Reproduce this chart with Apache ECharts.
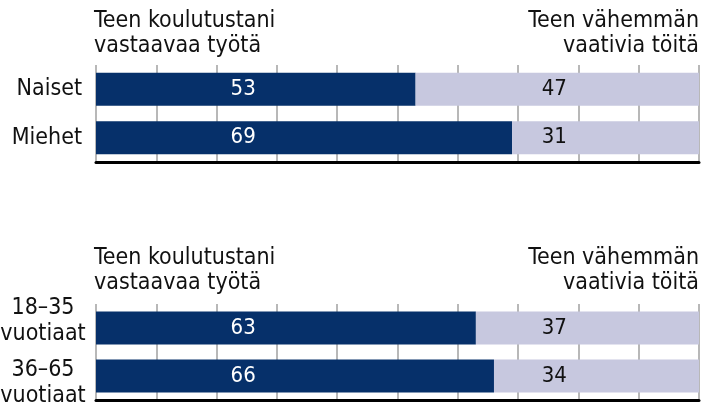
<!DOCTYPE html>
<html>
<head>
<meta charset="utf-8">
<script src="https://cdn.jsdelivr.net/npm/echarts@6/dist/echarts.min.js"></script>
<style>
html, body { margin: 0; padding: 0; background: #fff; }
#chart { width: 713px; height: 406px; }
</style>
</head>
<body>
<div id="chart"></div>
<script>
// aineisto
var sukupuoli = ['Naiset', 'Miehet'];
var sukupuoliVastaava = [53, 69];
var sukupuoliVahemman = [47, 31];

var ika = ['18–35\nvuotiaat', '36–65\nvuotiaat'];
var ikaVastaava = [63, 66];
var ikaVahemman = [37, 34];

var otsikkoVasen = 'Teen koulutustani\nvastaavaa työtä';
var otsikkoOikea = 'Teen vähemmän\nvaativia töitä';

var FONT = '"Liberation Sans Narrow", "DejaVu Sans Condensed", sans-serif';
var DARK = '#06306a';
var LIGHT = '#c7c8df';
var GRID_W = 603;
var PX = GRID_W / 100;
var darkLabelAt = 24.4, lightLabelAt = 76;

var chart = echarts.init(document.getElementById('chart'));

function xAxis(i) {
	return {
		gridIndex: i, type: 'value', min: 0, max: 100, interval: 10,
		axisLabel: {show: false}, axisTick: {show: false},
		axisLine: {show: true, onZero: false, lineStyle: {color: '#000', width: 3}},
		splitLine: {show: true, lineStyle: {color: '#a0a0a0', width: 1.5}}
	};
}

function darkData(vals) {
	return vals.map(function (v) {
		return {value: v, label: {position: [darkLabelAt * PX, '50%']}};
	});
}
function lightData(first, vals) {
	return vals.map(function (v, i) {
		return {value: v, label: {position: [(lightLabelAt - first[i]) * PX, '50%']}};
	});
}

function bars(i, first, second) {
	var lab = {show: true, align: 'center', verticalAlign: 'middle', fontFamily: FONT, fontSize: 22};
	return [
		{type: 'bar', xAxisIndex: i, yAxisIndex: i, stack: 's' + i, barWidth: 33,
		 itemStyle: {color: DARK}, data: darkData(first),
		 label: Object.assign({color: '#fff'}, lab)},
		{type: 'bar', xAxisIndex: i, yAxisIndex: i, stack: 's' + i, barWidth: 33,
		 itemStyle: {color: LIGHT}, data: lightData(first, second),
		 label: Object.assign({color: '#111'}, lab)}
	];
}

function otsikko(text, x, y, align) {
	return {type: 'text', x: x, y: y, silent: true,
		style: {text: text, align: align, verticalAlign: 'top', fill: '#111',
		        fontFamily: FONT, fontSize: 23, lineHeight: 25}};
}

option = {
	animation: false,
	graphic: [
		otsikko(otsikkoVasen, 94, 9, 'left'),
		otsikko(otsikkoOikea, 699, 9, 'right'),
		otsikko(otsikkoVasen, 94, 246, 'left'),
		otsikko(otsikkoOikea, 699, 246, 'right')
	],
	grid: [
		{left: 96, width: GRID_W, top: 65, height: 97, containLabel: false, outerBoundsMode: 'none'},
		{left: 96, width: GRID_W, top: 304, height: 96, containLabel: false, outerBoundsMode: 'none'}
	],
	xAxis: [xAxis(0), xAxis(1)],
	yAxis: [
		{gridIndex: 0, type: 'category', inverse: true, data: sukupuoli,
		 axisLine: {show: false}, axisTick: {show: false},
		 axisLabel: {fontFamily: FONT, fontSize: 23, color: '#111', margin: 14}},
		{gridIndex: 1, type: 'category', inverse: true, data: ika,
		 axisLine: {show: false}, axisTick: {show: false},
		 axisLabel: {interval: 0, margin: 53, align: 'center',
		             formatter: function (v, idx) {
		                 var p = v.split('\n');
		                 var t = '{a|' + p[0] + '}\n{a|' + p[1] + '}';
		                 return idx === 0 ? t + '\n{b|}' : '{c|}\n' + t;
		             },
		             rich: {
		                 a: {fontFamily: FONT, fontSize: 23, color: '#111', lineHeight: 26, align: 'center'},
		                 b: {lineHeight: 14, height: 14},
		                 c: {lineHeight: 15, height: 15}
		             }}}
	],
	series: bars(0, sukupuoliVastaava, sukupuoliVahemman).concat(bars(1, ikaVastaava, ikaVahemman))
};
chart.setOption(option);
</script>
</body>
</html>
